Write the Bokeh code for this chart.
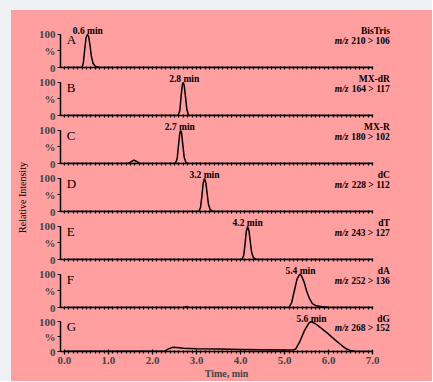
import math
from bokeh.plotting import figure
from bokeh.layouts import column, row
from bokeh.models import FixedTicker, Range1d
from bokeh.core.properties import value
from bokeh.embed import file_html
from bokeh.resources import INLINE

# ---------------- data ----------------
tA = [0.0, 0.40, 0.43, 0.46, 0.49, 0.52, 0.55, 0.58, 0.61, 0.65, 0.70, 0.78, 7.0]
iA = [0, 0, 15, 55, 90, 100, 93, 68, 35, 12, 4, 0, 0]

tB = [0.0, 2.58, 2.62, 2.65, 2.68, 2.70, 2.72, 2.75, 2.78, 2.82, 7.0]
iB = [0, 0, 15, 60, 95, 100, 90, 55, 18, 0, 0]

tC = [0.0, 1.45, 1.52, 1.58, 1.64, 1.72, 2.52, 2.56, 2.59, 2.62, 2.64, 2.66, 2.69, 2.72, 2.76, 2.80, 7.0]
iC = [0, 0, 6, 10, 6, 0, 0, 15, 55, 92, 100, 92, 55, 18, 3, 0, 0]

tD = [0.0, 3.05, 3.09, 3.12, 3.15, 3.18, 3.21, 3.24, 3.27, 3.31, 3.38, 7.0]
iD = [0, 0, 12, 45, 85, 100, 88, 55, 22, 6, 0, 0]

tE = [0.0, 4.03, 4.07, 4.10, 4.13, 4.16, 4.19, 4.22, 4.25, 4.29, 4.36, 7.0]
iE = [0, 0, 12, 45, 85, 100, 88, 55, 22, 6, 0, 0]

tF = [0.0, 2.72, 2.77, 2.82, 5.10, 5.16, 5.22, 5.28, 5.34, 5.38, 5.44, 5.50, 5.56, 5.63, 5.72, 5.85, 6.0, 6.2, 7.0]
iF = [0, 0, 3, 0, 0, 15, 50, 85, 100, 97, 78, 50, 28, 12, 5, 2, 1, 0, 0]

tG = [0.0, 2.28, 2.35, 2.45, 2.55, 2.70, 3.0, 3.5, 4.0, 4.5, 5.0, 5.2, 5.25, 5.35, 5.45, 5.55, 5.6,
      5.7, 5.8, 5.9, 6.0, 6.1, 6.2, 6.3, 6.4, 6.5, 6.6, 7.0]
iG = [1, 1, 8, 14, 13, 11, 9, 8, 7, 6, 5, 6, 8, 35, 70, 95, 100,
      93, 82, 70, 58, 45, 32, 20, 9, 3, 0, 0]

letters = ["A", "B", "C", "D", "E", "F", "G"]
compounds = ["BisTris", "MX-dR", "MX-R", "dC", "dT", "dA", "dG"]
transitions = ["210 > 106", "164 > 117", "180 > 102", "228 > 112", "243 > 127", "252 > 136", "268 > 152"]
peak_labels = ["0.6 min", "2.8 min", "2.7 min", "3.2 min", "4.2 min", "5.4 min", "5.6 min"]
peak_times = [0.53, 2.72, 2.62, 3.18, 4.16, 5.36, 5.61]

xticks = [0, 1, 2, 3, 4, 5, 6, 7]
xtick_labels = ["0.0", "1.0", "2.0", "3.0", "4.0", "5.0", "6.0", "7.0"]
minor_xticks = [m / 10 for m in range(0, 71)]
yticks = [0, 50, 100]
ytick_labels = ["0", "%", "100"]
y_title = "Relative Intensity"
x_title = "Time, min"

traces = [(tA, iA), (tB, iB), (tC, iC), (tD, iD), (tE, iE), (tF, iF), (tG, iG)]

# ---------------- styling ----------------
PINK = "#ff9f9f"
GRAY = "#eef0f3"
SERIF = "Liberation Serif"
X0, X1 = -0.09, 7.45
Y1 = 124
PAD_L, PAD_T = 11, 10
LABEL_W = 24
W = 421 - LABEL_W
TOTAL_H = 371
FRAME_H = 41


def base_fig(width, height, **kw):
    p = figure(width=width, height=height, output_backend="svg", toolbar_location=None, **kw)
    p.background_fill_color = PINK
    p.border_fill_color = PINK
    p.outline_line_color = None
    return p


figs = []
for k, (t, inten) in enumerate(traces):
    first = k == 0
    last = k == len(traces) - 1
    top = 16 if first else 0
    bottom = 26 if last else 7
    h = top + FRAME_H + bottom
    p = base_fig(W, h, x_range=Range1d(X0, X1), y_range=Range1d(0, Y1),
                 min_border_left=25, min_border_right=40,
                 min_border_top=top, min_border_bottom=bottom)
    p.xgrid.visible = False
    p.ygrid.visible = False

    p.line(t, inten, line_color="black", line_width=1.5)

    # x axis
    xa = p.xaxis[0]
    xa.bounds = (X0, 7.0)
    xa.axis_line_width = 1.5
    xa.major_tick_in = 2
    xa.major_tick_out = 3
    xa.minor_tick_in = 1
    xa.minor_tick_out = 2
    xa.major_tick_line_width = 1.2
    xa.minor_tick_line_width = 1.2
    if last:
        xa.ticker = FixedTicker(ticks=xticks, minor_ticks=minor_xticks)
        xa.major_label_overrides = dict(zip(xticks, xtick_labels))
        xa.major_label_text_font = SERIF
        xa.major_label_text_font_size = "11px"
        xa.major_label_text_font_style = "bold"
        xa.major_label_standoff = 2
        xa.axis_label = x_title
        xa.axis_label_text_font = SERIF
        xa.axis_label_text_font_size = "10px"
        xa.axis_label_text_font_style = "bold"
        xa.axis_label_standoff = 1
    else:
        xa.ticker = FixedTicker(ticks=[], minor_ticks=minor_xticks)

    # y axis
    ya = p.yaxis[0]
    ya.ticker = FixedTicker(ticks=yticks, minor_ticks=[])
    ya.bounds = (0, 100)
    ya.major_label_overrides = dict(zip(yticks, ytick_labels))
    ya.major_label_text_font = SERIF
    ya.major_label_text_font_size = "11px"
    ya.major_label_text_font_style = "bold"
    ya.major_label_standoff = 2
    ya.axis_line_width = 1.5
    ya.major_tick_in = 0
    ya.major_tick_out = 3
    ya.major_tick_line_width = 1.2

    # texts
    p.text(x=[0.05], y=[85], text=[letters[k]], text_font=value(SERIF),
           text_font_size="13px", text_align="left", text_baseline="middle",
           text_color="black")
    p.text(x=[peak_times[k]], y=[109], text=[peak_labels[k]], text_font=value(SERIF),
           text_font_size="9.5px", text_font_style="bold", text_align="center",
           text_baseline="middle", text_color="black")
    p.text(x=[7.39], y=[109], text=[compounds[k]], text_font=value(SERIF),
           text_font_size="9.5px", text_font_style="bold", text_align="right",
           text_baseline="middle", text_color="black")
    p.text(x=[7.39], y=[79], text=[transitions[k]], text_font=value(SERIF),
           text_font_size="9.5px", text_font_style="bold", text_align="right",
           text_baseline="middle", text_color="black")
    p.text(x=[6.45], y=[79], text=["m/z"], text_font=value(SERIF),
           text_font_size="9.5px", text_font_style="bold italic", text_align="right",
           text_baseline="middle", text_color="black")
    figs.append(p)

# left strip carrying the rotated y title
lab = base_fig(LABEL_W, TOTAL_H, x_range=Range1d(0, LABEL_W), y_range=Range1d(0, TOTAL_H),
               min_border=0)
lab.axis.visible = False
lab.grid.visible = False
lab.text(x=[11], y=[TOTAL_H - 187], text=[y_title], text_font=value(SERIF),
         text_font_size="10px", text_align="center", text_baseline="middle",
         angle=math.pi / 2, text_color="black")

panels = column(*figs, spacing=0, styles={"background-color": PINK})
inner = row(lab, panels, spacing=0, margin=(PAD_T, 0, 0, PAD_L),
            styles={"background-color": PINK})
p = column(inner, styles={"background-color": GRAY})

open("out.html", "w").write(file_html(p, INLINE))
